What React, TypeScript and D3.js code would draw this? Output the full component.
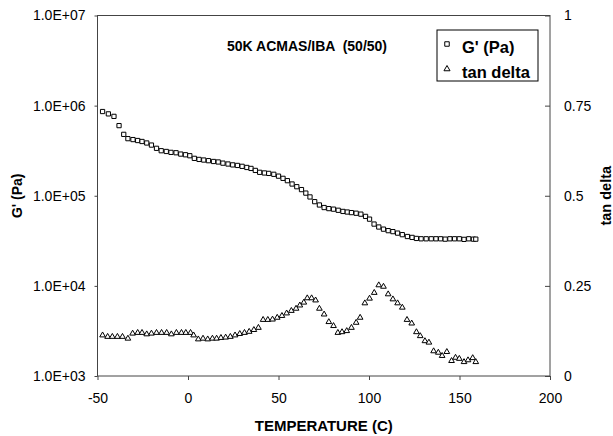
import React, { useEffect, useRef } from 'react';
import * as d3 from 'd3';

// G' (storage modulus), temperature in C
const gTemp = [
  -47.2, -44.0, -40.9, -38.1, -35.5, -33.2, -30.4, -27.8, -25.4, -22.8,
  -20.2, -17.4, -14.8, -12.0, -9.4, -6.6, -4.0, -1.4, 1.0, 3.5,
  6.1, 8.7, 11.3, 14.1, 16.7, 19.3, 22.1, 24.7, 27.3, 29.9,
  32.5, 34.8, 37.2, 39.6, 42.2, 44.6, 47.4, 50.0, 52.5, 54.9,
  57.5, 60.1, 62.7, 65.1, 67.4, 70.0, 72.6, 75.2, 77.8, 80.4,
  83.0, 85.6, 88.0, 90.3, 92.9, 95.5, 98.1, 100.3, 102.8, 105.4,
  108.0, 110.6, 113.2, 115.8, 118.4, 121.2, 123.8, 126.2, 128.8, 131.6,
  134.4, 137.0, 139.6, 142.1, 144.7, 147.3, 149.9, 152.5, 155.1, 157.7, 159.0
];
const gValue = [
  8.6e5, 8.1e5, 7.6e5, 6.0e5, 4.8e5, 4.3e5, 4.2e5, 4.1e5, 4.0e5, 3.85e5,
  3.65e5, 3.36e5, 3.16e5, 3.1e5, 3.03e5, 3.0e5, 2.9e5, 2.85e5, 2.78e5, 2.6e5,
  2.53e5, 2.49e5, 2.45e5, 2.4e5, 2.37e5, 2.3e5, 2.25e5, 2.2e5, 2.17e5, 2.12e5,
  2.06e5, 2.01e5, 1.91e5, 1.82e5, 1.79e5, 1.77e5, 1.73e5, 1.65e5, 1.56e5, 1.47e5,
  1.35e5, 1.26e5, 1.17e5, 1.07e5, 9.7e4, 8.6e4, 7.9e4, 7.4e4, 7.2e4, 7.1e4,
  6.9e4, 6.7e4, 6.6e4, 6.5e4, 6.4e4, 6.25e4, 5.9e4, 5.5e4, 4.85e4, 4.5e4,
  4.26e4, 4.1e4, 4.0e4, 3.85e4, 3.7e4, 3.53e4, 3.45e4, 3.36e4, 3.33e4, 3.33e4,
  3.33e4, 3.33e4, 3.33e4, 3.3e4, 3.33e4, 3.33e4, 3.33e4, 3.28e4, 3.33e4, 3.3e4, 3.3e4
];

// tan delta
const tanTemp = [
  -47.2, -44.4, -41.8, -39.0, -36.2, -33.2, -30.6, -27.8, -25.4, -22.8,
  -20.2, -17.4, -14.6, -11.8, -9.2, -6.4, -3.6, -1.2, 1.4, 3.1,
  5.7, 8.3, 10.9, 13.5, 15.8, 18.2, 20.8, 23.4, 26.0, 28.6,
  31.2, 33.8, 36.4, 38.9, 41.5, 44.1, 46.7, 49.3, 51.9, 54.5,
  57.1, 59.7, 61.8, 64.0, 65.9, 68.3, 70.5, 72.6, 75.2, 77.8,
  80.4, 82.8, 85.1, 87.7, 90.3, 92.9, 95.1, 97.7, 100.3, 102.9,
  105.4, 108.0, 110.6, 113.2, 115.8, 118.4, 121.0, 123.6, 126.2, 128.3,
  130.9, 133.1, 135.7, 138.3, 140.4, 143.0, 145.6, 147.8, 149.9, 152.5,
  154.7, 157.3, 159.0
];
const tanValue = [
  0.113, 0.109, 0.109, 0.109, 0.109, 0.104, 0.118, 0.120, 0.120, 0.116,
  0.118, 0.120, 0.120, 0.120, 0.116, 0.120, 0.120, 0.120, 0.120, 0.113,
  0.102, 0.104, 0.102, 0.104, 0.104, 0.106, 0.107, 0.109, 0.113, 0.117,
  0.120, 0.123, 0.128, 0.134, 0.156, 0.156, 0.157, 0.162, 0.167, 0.174,
  0.181, 0.187, 0.196, 0.204, 0.216, 0.216, 0.210, 0.187, 0.171, 0.150,
  0.139, 0.120, 0.122, 0.125, 0.134, 0.148, 0.162, 0.202, 0.215, 0.231,
  0.252, 0.248, 0.227, 0.213, 0.202, 0.190, 0.156, 0.146, 0.122, 0.111,
  0.097, 0.093, 0.069, 0.065, 0.056, 0.067, 0.042, 0.051, 0.048, 0.039,
  0.044, 0.050, 0.039
];

const xTicks = [-50, 0, 50, 100, 150, 200];
const gTicks = [1e3, 1e4, 1e5, 1e6, 1e7];
const gTickLabels = ['1.0E+03', '1.0E+04', '1.0E+05', '1.0E+06', '1.0E+07'];
const tanTicks = [0, 0.25, 0.5, 0.75, 1];

const legendLabels = ["G' (Pa)", 'tan delta'];

const width = 613;
const height = 436;
const margin = { top: 15.5, right: 63, bottom: 60, left: 97.5 };
const font = '"Liberation Sans", Arial, Helvetica, sans-serif';

function App() {
  const ref = useRef<SVGSVGElement>(null);

  useEffect(() => {
    const svg = d3.select(ref.current);
    svg.selectAll('*').remove();

    const x = d3.scaleLinear().domain([-50, 200]).range([margin.left, width - margin.right]);
    const yG = d3.scaleLog().domain([1e3, 1e7]).range([height - margin.bottom, margin.top]);
    const yT = d3.scaleLinear().domain([0, 1]).range([height - margin.bottom, margin.top]);

    const x0 = margin.left, x1 = width - margin.right;
    const y0 = height - margin.bottom, y1 = margin.top;

    svg.append('rect')
      .attr('x', x0).attr('y', y1)
      .attr('width', x1 - x0).attr('height', y0 - y1)
      .attr('fill', 'none').attr('stroke', '#444').attr('stroke-width', 1);

    const styleAxis = (g: any, size: number) => {
      g.select('.domain').remove();
      g.selectAll('.tick line').attr('stroke', '#444');
      g.selectAll('.tick text')
        .attr('fill', '#000')
        .style('font-family', font)
        .style('font-size', size + 'px');
    };

    svg.append('g')
      .attr('transform', `translate(0,${y0})`)
      .call(d3.axisBottom(x).tickValues(xTicks).tickSize(4).tickPadding(13).tickFormat(d => String(d)))
      .call(g => styleAxis(g, 14));

    svg.append('g')
      .attr('transform', `translate(${x0},0)`)
      .call(d3.axisLeft(yG).tickValues(gTicks).tickSize(3).tickPadding(9)
        .tickFormat((d, i) => gTickLabels[i]))
      .call(g => styleAxis(g, 14));

    svg.append('g')
      .attr('transform', `translate(${x1},0)`)
      .call(d3.axisRight(yT).tickValues(tanTicks).tickSizeInner(-5).tickSizeOuter(0).tickPadding(14)
        .tickFormat(d => String(d)))
      .call(g => styleAxis(g, 14));

    const square = d3.symbol().type(d3.symbolSquare).size(18);
    const tri = d3.symbol().type(d3.symbolTriangle).size(14);

    svg.append('g')
      .selectAll('path')
      .data(gTemp.map((t, i) => [t, gValue[i]]))
      .join('path')
        .attr('d', square)
        .attr('transform', d => `translate(${x(d[0])},${yG(d[1])})`)
        .attr('fill', '#fff').attr('stroke', '#000').attr('stroke-width', 1);

    svg.append('g')
      .selectAll('path')
      .data(tanTemp.map((t, i) => [t, tanValue[i]]))
      .join('path')
        .attr('d', tri)
        .attr('transform', d => `translate(${x(d[0])},${yT(d[1])})`)
        .attr('fill', '#fff').attr('stroke', '#000').attr('stroke-width', 1);

    // title inside plot
    svg.append('text')
      .attr('x', 227).attr('y', 51)
      .attr('xml:space', 'preserve')
      .style('font-family', font).style('font-size', '14px').style('font-weight', 'bold')
      .text('50K ACMAS/IBA  (50/50)');

    // legend
    const lg = svg.append('g');
    lg.append('rect')
      .attr('x', 437).attr('y', 30).attr('width', 101).attr('height', 51)
      .attr('fill', '#fff').attr('stroke', '#000').attr('stroke-width', 1);
    lg.append('path').attr('d', d3.symbol().type(d3.symbolSquare).size(20)())
      .attr('transform', 'translate(447,44)')
      .attr('fill', '#fff').attr('stroke', '#000');
    lg.append('path').attr('d', d3.symbol().type(d3.symbolTriangle).size(16)())
      .attr('transform', 'translate(447,69)')
      .attr('fill', '#fff').attr('stroke', '#000');
    lg.selectAll('text.lab')
      .data(legendLabels)
      .join('text')
        .attr('class', 'lab')
        .attr('x', 462)
        .attr('y', (d, i) => [53, 78][i])
        .style('font-family', font).style('font-size', '16.5px').style('font-weight', 'bold')
        .text(d => d);

    // axis titles
    svg.append('text')
      .attr('x', (x0 + x1) / 2).attr('y', 431)
      .attr('text-anchor', 'middle')
      .style('font-family', font).style('font-size', '15px').style('font-weight', 'bold')
      .text('TEMPERATURE (C)');

    svg.append('text')
      .attr('transform', `translate(22,${(y0 + y1) / 2}) rotate(-90)`)
      .attr('text-anchor', 'middle')
      .style('font-family', font).style('font-size', '14px').style('font-weight', 'bold')
      .text("G' (Pa)");

    svg.append('text')
      .attr('transform', `translate(611,${(y0 + y1) / 2}) rotate(-90)`)
      .attr('text-anchor', 'middle')
      .style('font-family', font).style('font-size', '14.5px').style('font-weight', 'bold')
      .text('tan delta');
  }, []);

  return (
    <svg
      ref={ref}
      width={width}
      height={height}
      style={{ position: 'absolute', left: 0, top: 0, background: '#fff' }}
    />
  );
}

export default App;
